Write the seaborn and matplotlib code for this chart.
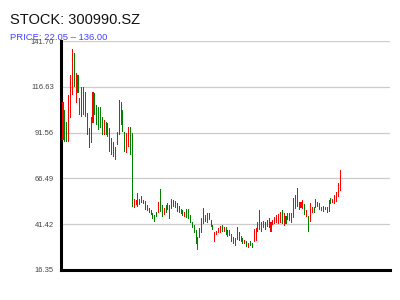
import numpy as np
import pandas as pd
import seaborn as sns
import matplotlib
matplotlib.use("Agg")
import matplotlib.pyplot as plt

title = "STOCK: 300990.SZ"
subtitle = "PRICE: 22.05 \u2013 136.00"
y_ticks = [16.35, 41.42, 66.49, 91.56, 116.63, 141.70]

open_ = [87.5, 103.9, 97.4, 86.4, 99.6, 112.1, 135.1, 107.8, 123.1, 110.5,
         100.1, 101.2, 113.8, 102.3, 94.1, 85.9, 96.8, 113.2, 106.7, 105.6,
         105.6, 100.1, 90.2, 97.4, 96.8, 94.1, 79.3, 86.4, 76.6, 84.8,
         90.2, 95.7, 103.9, 91.9, 80.4, 83.7, 94.6, 91.3, 50.3, 51.9,
         50.8, 51.9, 56.9, 52.5, 54.1, 51.9, 50.3, 49.2, 47.5, 46.5,
         48.1, 47.5, 60.7, 51.9, 46.5, 51.9, 49.2, 44.3, 49.7, 50.8,
         50.3, 53.0, 51.4, 49.7, 49.2, 45.4, 49.7, 49.7, 46.5, 42.6,
         41.0, 38.2, 27.3, 33.9, 36.6, 50.3, 42.6, 42.1, 47.5, 43.7,
         41.0, 31.7, 35.5, 36.6, 36.6, 41.0, 37.1, 39.9, 38.2, 35.0,
         36.1, 34.4, 29.5, 32.8, 37.1, 31.7, 33.9, 30.6, 32.2, 28.4,
         32.2, 31.1, 31.7, 32.2, 37.1, 49.2, 37.1, 39.3, 42.6, 39.9,
         44.8, 37.1, 41.0, 41.5, 42.1, 41.5, 42.1, 49.2, 40.4, 45.9,
         43.7, 43.2, 42.1, 44.8, 49.7, 61.2, 49.2, 50.3, 49.7, 52.5,
         45.4, 45.9, 42.6, 47.5, 50.8, 50.3, 53.6, 53.0, 48.6, 48.1,
         49.2, 47.5, 48.1, 55.8, 53.0, 52.5, 53.6, 56.3, 59.6]
close = [108.3, 86.4, 86.4, 112.1, 123.1, 137.3, 116.5, 124.2, 113.2, 101.2,
         116.5, 116.5, 100.1, 90.2, 83.1, 100.1, 113.8, 101.2, 95.7, 93.0,
         94.1, 90.2, 98.5, 90.2, 89.2, 80.9, 88.6, 78.2, 83.7, 91.9,
         109.4, 108.3, 91.9, 80.9, 91.3, 94.6, 79.3, 50.8, 55.2, 54.7,
         58.5, 55.2, 53.0, 54.7, 49.2, 48.6, 47.5, 46.5, 44.3, 42.6,
         45.4, 53.6, 48.1, 45.4, 50.3, 47.5, 53.0, 51.9, 55.2, 54.7,
         54.1, 48.1, 47.5, 47.0, 45.9, 48.1, 44.8, 44.3, 42.1, 39.3,
         36.6, 30.6, 34.4, 39.3, 44.8, 41.5, 46.5, 47.5, 43.7, 39.9,
         38.2, 37.1, 37.7, 39.3, 40.4, 37.1, 39.9, 35.5, 34.4, 38.2,
         31.7, 30.6, 33.9, 39.9, 32.2, 35.0, 30.6, 32.8, 28.9, 31.1,
         29.5, 28.4, 38.8, 39.3, 42.6, 38.2, 42.6, 43.2, 38.2, 43.7,
         39.3, 42.6, 43.7, 45.4, 46.5, 47.0, 48.1, 41.5, 47.5, 41.5,
         47.5, 47.5, 47.5, 55.8, 57.4, 50.8, 53.6, 53.6, 54.7, 46.5,
         49.2, 37.1, 53.0, 50.8, 47.5, 55.2, 50.8, 49.2, 50.8, 51.4,
         50.8, 50.8, 54.7, 52.5, 55.2, 57.4, 59.0, 64.0, 71.1]

df = pd.DataFrame({"open": open_, "close": close})
df["idx"] = np.arange(len(df))
df["lo"] = df[["open", "close"]].min(axis=1)
df["hi"] = df[["open", "close"]].max(axis=1)
df["color"] = np.where(df["close"] >= df["open"], "#ff0000", "#008000")

sns.set_theme(style="white")
plt.rcParams["font.family"] = ["Liberation Sans", "DejaVu Sans"]

fig = plt.figure(figsize=(4, 3), dpi=100)
ax = fig.add_axes([0.1525, 0.10, 0.8225, 0.7633])

ax.bar(df["idx"], df["hi"] - df["lo"], bottom=df["lo"], width=0.55,
       color=df["color"], linewidth=0, zorder=3)

ax.set_ylim(y_ticks[0], y_ticks[-1])
ax.set_xlim(-1.07, 174.5)
ax.set_yticks(y_ticks)
ax.set_yticklabels([f"{v:.2f}" for v in y_ticks], fontsize=5.5, color="#444444")
ax.set_xticks([])
ax.tick_params(axis="y", length=0, pad=5)
ax.grid(axis="y", color="#cccccc", linewidth=0.9, zorder=0)
ax.set_axisbelow(True)
sns.despine(ax=ax, top=True, right=True)
ax.spines["left"].set_linewidth(2.2)
ax.spines["bottom"].set_linewidth(2.2)
ax.spines["left"].set_color("black")
ax.spines["bottom"].set_color("black")

fig.text(0.025, 0.935, title, fontsize=10.5, color="#111111", va="center", ha="left")
fig.text(0.025, 0.875, subtitle, fontsize=6.8, color="#4444ff", va="center", ha="left")

fig.savefig("out.png", dpi=100, facecolor="white")
